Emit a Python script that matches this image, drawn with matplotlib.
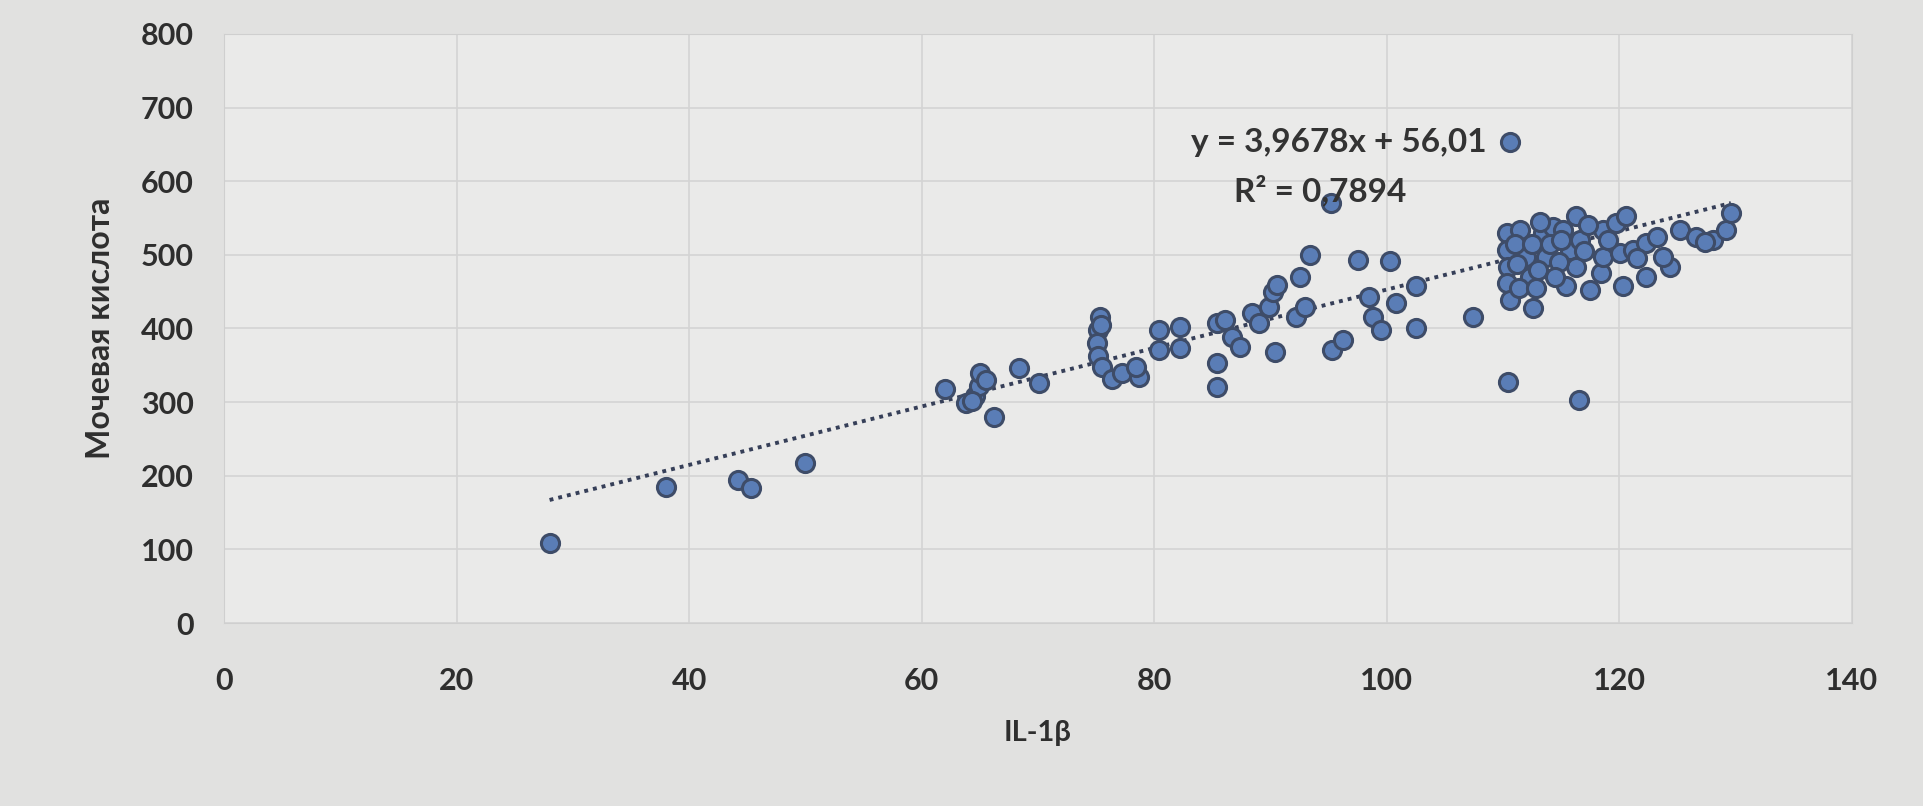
import numpy as np
import matplotlib
matplotlib.use("Agg")
import matplotlib.pyplot as plt

plt.rcParams['font.family'] = ['Lato', 'Open Sans', 'DejaVu Sans']

# IL-1b vs uric acid
il1b = [28, 38, 44.2, 45.3, 50,
        62, 63.8, 64.6, 64.9, 65, 66.2, 68.4, 70.1,
        75.3, 75.2, 75.1, 75.2, 75.5, 76.4, 77.2, 78.7, 78.4,
        80.4, 80.4, 82.2, 82.2,
        85.4, 85.4, 85.4, 86.1, 86.7, 87.4, 88.4, 89, 89.9, 90.2, 90.6, 90.4,
        92.2, 93, 92.5, 93.4, 95.2, 95.3, 96.2, 97.5, 100.3, 98.5, 98.8, 99.5,
        100.8, 102.5, 102.5, 107.4, 110.4, 116.5, 110.6,
        110.3, 110.3, 110.4, 110.3, 110.6, 112.6, 111.5, 112, 112.3, 113.4,
        113.7, 114.3, 115.2, 115.8, 115.4, 116.3, 116.6, 116.3, 117.5, 118.4,
        118.6, 118.6, 119.7, 120.6, 120.1, 121.2, 122.3, 123.2, 124.4, 123.8,
        120.3, 122.3, 125.2, 126.6, 128.1, 129.2, 129.6,
        111, 111.2, 112.5, 113, 114, 114.8, 115, 117, 117.3, 119, 121.5,
        111.4, 112.8, 114.5, 113.2, 127.4, 64.3, 75.4, 65.5]
uric = [108, 185, 194, 183, 217,
        318, 299, 308, 322, 340, 280, 346, 326,
        416, 398, 380, 362, 348, 332, 340, 334, 348,
        398, 371, 402, 374,
        408, 353, 321, 412, 389, 375, 421, 407, 429, 450, 459, 368,
        416, 429, 470, 500, 570, 371, 384, 493, 491, 443, 416, 398,
        435, 457, 401, 416, 327, 303, 653,
        530, 507, 484, 462, 439, 428, 534, 497, 470, 530,
        497, 538, 534, 507, 457, 552, 520, 484, 452, 475,
        497, 534, 543, 552, 503, 507, 516, 524, 484, 497,
        457, 470, 534, 524, 520, 534, 557,
        515, 488, 515, 480, 515, 490, 520, 505, 540, 520, 495,
        455, 455, 470, 545, 518, 302, 405, 330]

slope = 3.9678
intercept = 56.01
r2 = 0.7894

x_ticks = [0, 20, 40, 60, 80, 100, 120, 140]
y_ticks = [0, 100, 200, 300, 400, 500, 600, 700, 800]

fig = plt.figure(figsize=(19.23, 8.06), dpi=100)
fig.patch.set_facecolor('#e1e1e0')
ax = fig.add_axes([0.1165, 0.227, 0.8465, 0.731])
ax.set_facecolor('#eaeae9')

ax.grid(True, color='#d4d4d4', linewidth=1.2)
ax.set_axisbelow(True)

xs = np.array([min(il1b), max(il1b)])
ax.plot(xs, slope * xs + intercept, linestyle=(0, (1, 1.3)), color='#363f58',
        linewidth=2.8, zorder=2)

ax.scatter(il1b, uric, s=170, facecolor='#5a7db6', edgecolor='#3e4c68',
           linewidth=2.2, zorder=3)

ax.set_xlim(0, 140)
ax.set_ylim(0, 800)
ax.set_xticks(x_ticks)
ax.set_yticks(y_ticks)
ax.tick_params(length=0, labelsize=22, colors='#2e2e2e')
ax.tick_params(axis='x', pad=32)
ax.tick_params(axis='y', pad=22)
for lab in ax.get_xticklabels() + ax.get_yticklabels():
    lab.set_fontweight('bold')

for s in ax.spines.values():
    s.set_color('#cfcfcf')

ax.set_xlabel('IL-1β', fontsize=21, fontweight='bold', color='#2e2e2e', labelpad=18)
ax.set_ylabel('Мочевая кислота', fontsize=23, fontweight='bold', color='#2e2e2e',
              labelpad=18)

ax.text(108.6, 653, f'y = {slope:.4f}x + {intercept:.2f}'.replace('.', ','),
        ha='right', va='center', fontsize=24, fontweight='bold', color='#333333')
ax.text(94.3, 588, f'R² = {r2:.4f}'.replace('.', ','),
        ha='center', va='center', fontsize=24, fontweight='bold', color='#333333')

fig.savefig('out.png', dpi=100, facecolor=fig.get_facecolor())
